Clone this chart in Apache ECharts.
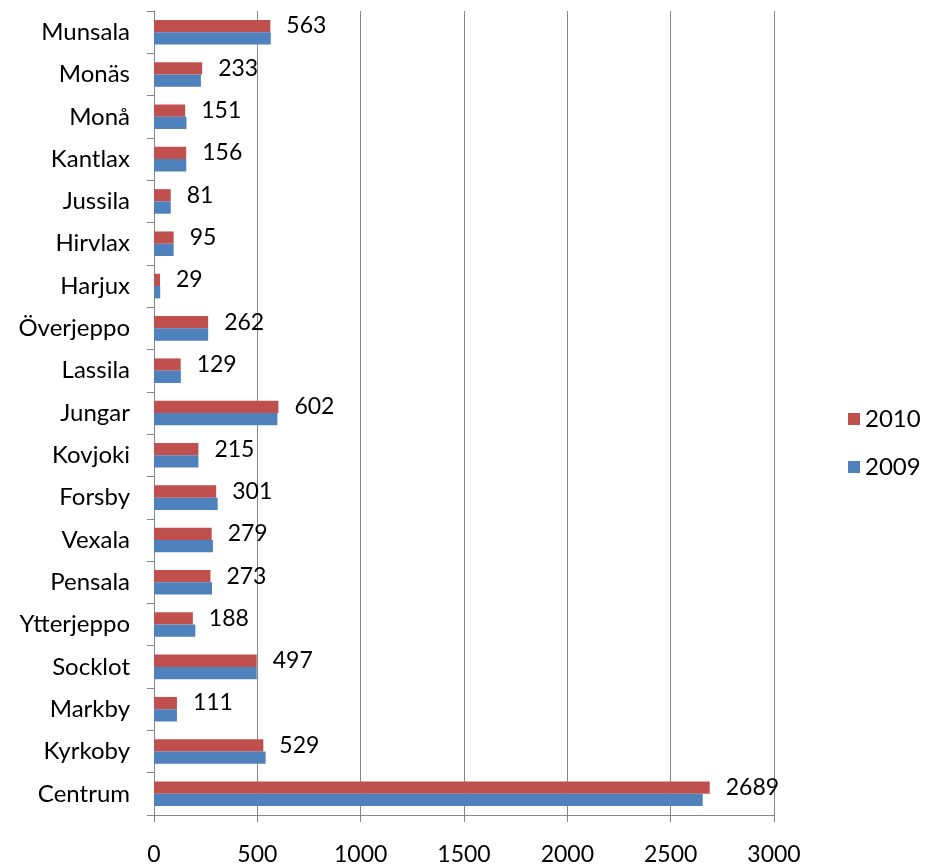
<!DOCTYPE html>
<html><head><meta charset="utf-8">
<script src="https://cdn.jsdelivr.net/npm/echarts@6/dist/echarts.min.js"></script>
<style>html,body{margin:0;padding:0;background:#fff}#c{width:926px;height:868px}</style>
</head><body><div id="c"></div>
<script>
var categories = ['Centrum','Kyrkoby','Markby','Socklot','Ytterjeppo','Pensala','Vexala','Forsby','Kovjoki','Jungar','Lassila','Överjeppo','Harjux','Hirvlax','Jussila','Kantlax','Monå','Monäs','Munsala'];
var values2010 = [2689,529,111,497,188,273,279,301,215,602,129,262,29,95,81,156,151,233,563];
var values2009 = [2655,540,111,497,200,281,285,308,215,597,130,262,30,95,81,156,157,227,565];
var xTicks = [0,500,1000,1500,2000,2500,3000];

var FONT = 'Lato';
var chart = echarts.init(document.getElementById('c'));
chart.setOption({
  animation: false,
  textStyle: {fontFamily: FONT},
  grid: {left: 154, right: 152, top: 11, bottom: 53},
  legend: {
    orient: 'vertical', left: 843, top: 402,
    data: ['2010','2009'],
    icon: 'rect', itemWidth: 12, itemHeight: 12, itemGap: 24,
    textStyle: {fontFamily: FONT, fontSize: 24, color: '#000'}
  },
  xAxis: {
    type: 'value', min: xTicks[0], max: xTicks[xTicks.length-1], interval: 500,
    axisLine: {show: true, lineStyle: {color: '#868686', width: 1}},
    axisTick: {show: true, length: 7, lineStyle: {color: '#868686'}},
    splitLine: {show: true, lineStyle: {color: '#868686', width: 1}},
    axisLabel: {fontFamily: FONT, fontSize: 23, color: '#000', margin: 28, formatter: function(v){return String(v);}}
  },
  yAxis: {
    type: 'category', data: categories,
    axisLine: {show: true, lineStyle: {color: '#868686', width: 1}},
    axisTick: {show: true, length: 7, inside: false, lineStyle: {color: '#868686'}},
    axisLabel: {fontFamily: FONT, fontSize: 24, color: '#000', margin: 24}
  },
  series: [
    {name: '2010', type: 'bar', data: values2010, barGap: '0%', barCategoryGap: '42%',
     itemStyle: {color: '#C0504D'},
     label: {show: true, position: 'right', distance: 16, fontFamily: FONT, fontSize: 23, color: '#000'}},
    {name: '2009', type: 'bar', data: values2009, barGap: '0%', barCategoryGap: '42%',
     itemStyle: {color: '#4F81BD'}}
  ]
});
</script></body></html>
